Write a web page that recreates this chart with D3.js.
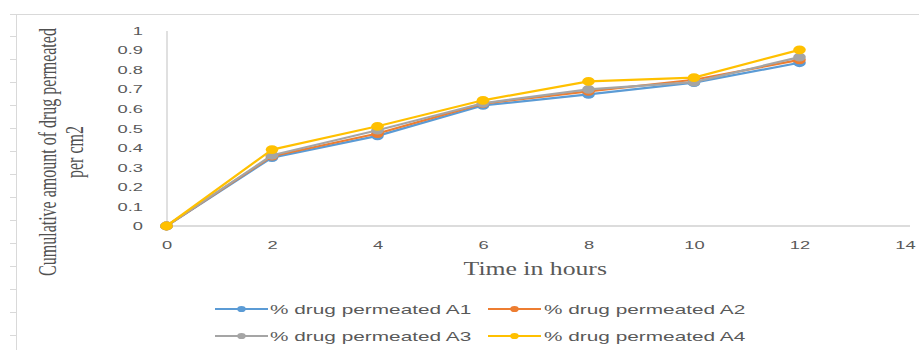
<!DOCTYPE html>
<html>
<head>
<meta charset="utf-8">
<script src="https://cdn.jsdelivr.net/npm/d3@7"></script>
<style>
  html, body { margin: 0; padding: 0; background: #ffffff; }
  svg { display: block; }
</style>
</head>
<body>
<svg id="chart" width="919" height="350"></svg>
<script>
// ---------- DATA ----------
const hours = [0, 2, 4, 6, 8, 10, 12];
const seriesNames = ["% drug permeated A1", "% drug permeated A2", "% drug permeated A3", "% drug permeated A4"];
const valuesA1 = [0, 0.350, 0.461, 0.617, 0.673, 0.733, 0.835];
const valuesA2 = [0, 0.357, 0.473, 0.626, 0.689, 0.748, 0.850];
const valuesA3 = [0, 0.362, 0.490, 0.628, 0.699, 0.736, 0.864];
const valuesA4 = [0, 0.391, 0.510, 0.643, 0.740, 0.759, 0.901];
const seriesColors = ["#5B9BD5", "#ED7D31", "#A5A5A5", "#FFC000"];
const xTicks = [0, 2, 4, 6, 8, 10, 12, 14];
const yTicks = [0, 0.1, 0.2, 0.3, 0.4, 0.5, 0.6, 0.7, 0.8, 0.9, 1];
const xTitle = "Time in hours";
const yTitleLines = ["Cumulative amount of drug permeated", "per cm2"];

// ---------- SETUP ----------
const svg = d3.select("#chart");
const SX = 1.43;          // horizontal stretch of the original picture
const textColor = "#595959";
const axisColor = "#d0d0d0";

const x = d3.scaleLinear().domain([0, 14]).range([166.5, 905]);
const y = d3.scaleLinear().domain([0, 1]).range([226, 30.5]);

// page frame (sheet border with small ticks)
const frame = svg.append("g").attr("stroke", "#d9d9d9").attr("stroke-width", 1);
frame.append("line").attr("x1", 10).attr("x2", 919).attr("y1", 14.5).attr("y2", 14.5);
frame.append("line").attr("x1", 16.5).attr("x2", 16.5).attr("y1", 14).attr("y2", 350);
frame.selectAll("line.fr").data(d3.range(14)).join("line").attr("class", "fr")
  .attr("x1", 10).attr("x2", 16.5)
  .attr("y1", d => 36.5 + d * 23).attr("y2", d => 36.5 + d * 23);

// ---------- AXES ----------
const yAxis = d3.axisLeft(y).tickValues(yTicks).tickFormat(d3.format("~g")).tickSize(0).tickPadding(0);
const gy = svg.append("g").attr("transform", `translate(${x(0)},0)`).call(yAxis);
gy.select(".domain").attr("stroke", axisColor).attr("stroke-width", 1.3);
gy.selectAll(".tick text")
  .attr("x", 0).attr("dy", "0.36em")
  .attr("transform", `translate(-23.5,0) scale(${SX * 1.22},1)`)
  .attr("text-anchor", "end")
  .attr("fill", textColor)
  .style("font-family", "'Liberation Sans', Arial, sans-serif")
  .style("font-size", "10.5px");

const xAxis = d3.axisBottom(x).tickValues(xTicks).tickFormat(d3.format("~g")).tickSize(0).tickPadding(0);
const gx = svg.append("g").attr("transform", `translate(0,${y(0)})`).call(xAxis);
gx.select(".domain").attr("stroke", axisColor).attr("stroke-width", 1.3)
  .attr("d", `M${x(0)},0H${x(14) + 5}`);
gx.selectAll(".tick text")
  .attr("y", 0).attr("dy", "0")
  .attr("transform", `translate(0,22.5) scale(${SX * 1.22},1)`)
  .attr("fill", textColor)
  .style("font-family", "'Liberation Sans', Arial, sans-serif")
  .style("font-size", "10.5px");
svg.selectAll(".tick line").remove();

// axis titles
svg.append("text")
  .attr("transform", `translate(${(x(0) + x(14)) / 2 - 0.5},275) scale(${SX},1)`)
  .attr("text-anchor", "middle")
  .attr("fill", textColor)
  .style("font-family", "'Liberation Serif', 'Times New Roman', serif")
  .style("font-size", "18px")
  .text(xTitle);

const yt = svg.append("text")
  .attr("transform", `translate(56,152) scale(1.55,1) rotate(-90)`)
  .attr("text-anchor", "middle")
  .attr("fill", "#505050")
  .style("font-family", "'Liberation Serif', 'Times New Roman', serif")
  .style("font-size", "16px");
yt.selectAll("tspan").data(yTitleLines).join("tspan")
  .attr("x", 0).attr("dy", (d, i) => i === 0 ? 0 : 17.5)
  .text(d => d);

// ---------- SERIES ----------
const allValues = [valuesA1, valuesA2, valuesA3, valuesA4];
const series = seriesNames.map((name, i) => ({
  name, color: seriesColors[i],
  points: hours.map((h, j) => ({ h, v: allValues[i][j] }))
}));

const line = d3.line().x(d => x(d.h)).y(d => y(d.v));
const gs = svg.append("g").selectAll("g").data(series).join("g");
gs.append("path")
  .attr("d", d => line(d.points))
  .attr("fill", "none")
  .attr("stroke", d => d.color)
  .attr("stroke-width", 2.2)
  .attr("stroke-linejoin", "round");
gs.selectAll("ellipse").data(d => d.points.map(p => ({ ...p, color: d.color }))).join("ellipse")
  .attr("cx", d => x(d.h)).attr("cy", d => y(d.v))
  .attr("rx", 6.3).attr("ry", 4.4)
  .attr("fill", d => d.color);

// ---------- LEGEND ----------
const legCols = [215, 488];
const legRows = [309, 336];
const leg = svg.append("g").selectAll("g").data(series).join("g")
  .attr("transform", (d, i) => `translate(${legCols[i % 2]},${legRows[Math.floor(i / 2)]})`);
leg.append("line").attr("x1", 0).attr("x2", 53).attr("y1", 0).attr("y2", 0)
  .attr("stroke", d => d.color).attr("stroke-width", 2.2);
leg.append("ellipse").attr("cx", 26.5).attr("cy", 0).attr("rx", 4.3).attr("ry", 3.1)
  .attr("fill", d => d.color);
leg.append("text")
  .attr("transform", (d, i) => `translate(${i % 2 === 0 ? 55 : 56},4.5) scale(${SX * 1.12},1)`)
  .attr("fill", textColor)
  .style("font-family", "'Liberation Sans', Arial, sans-serif")
  .style("font-size", "13px")
  .text(d => d.name);
</script>
</body>
</html>
